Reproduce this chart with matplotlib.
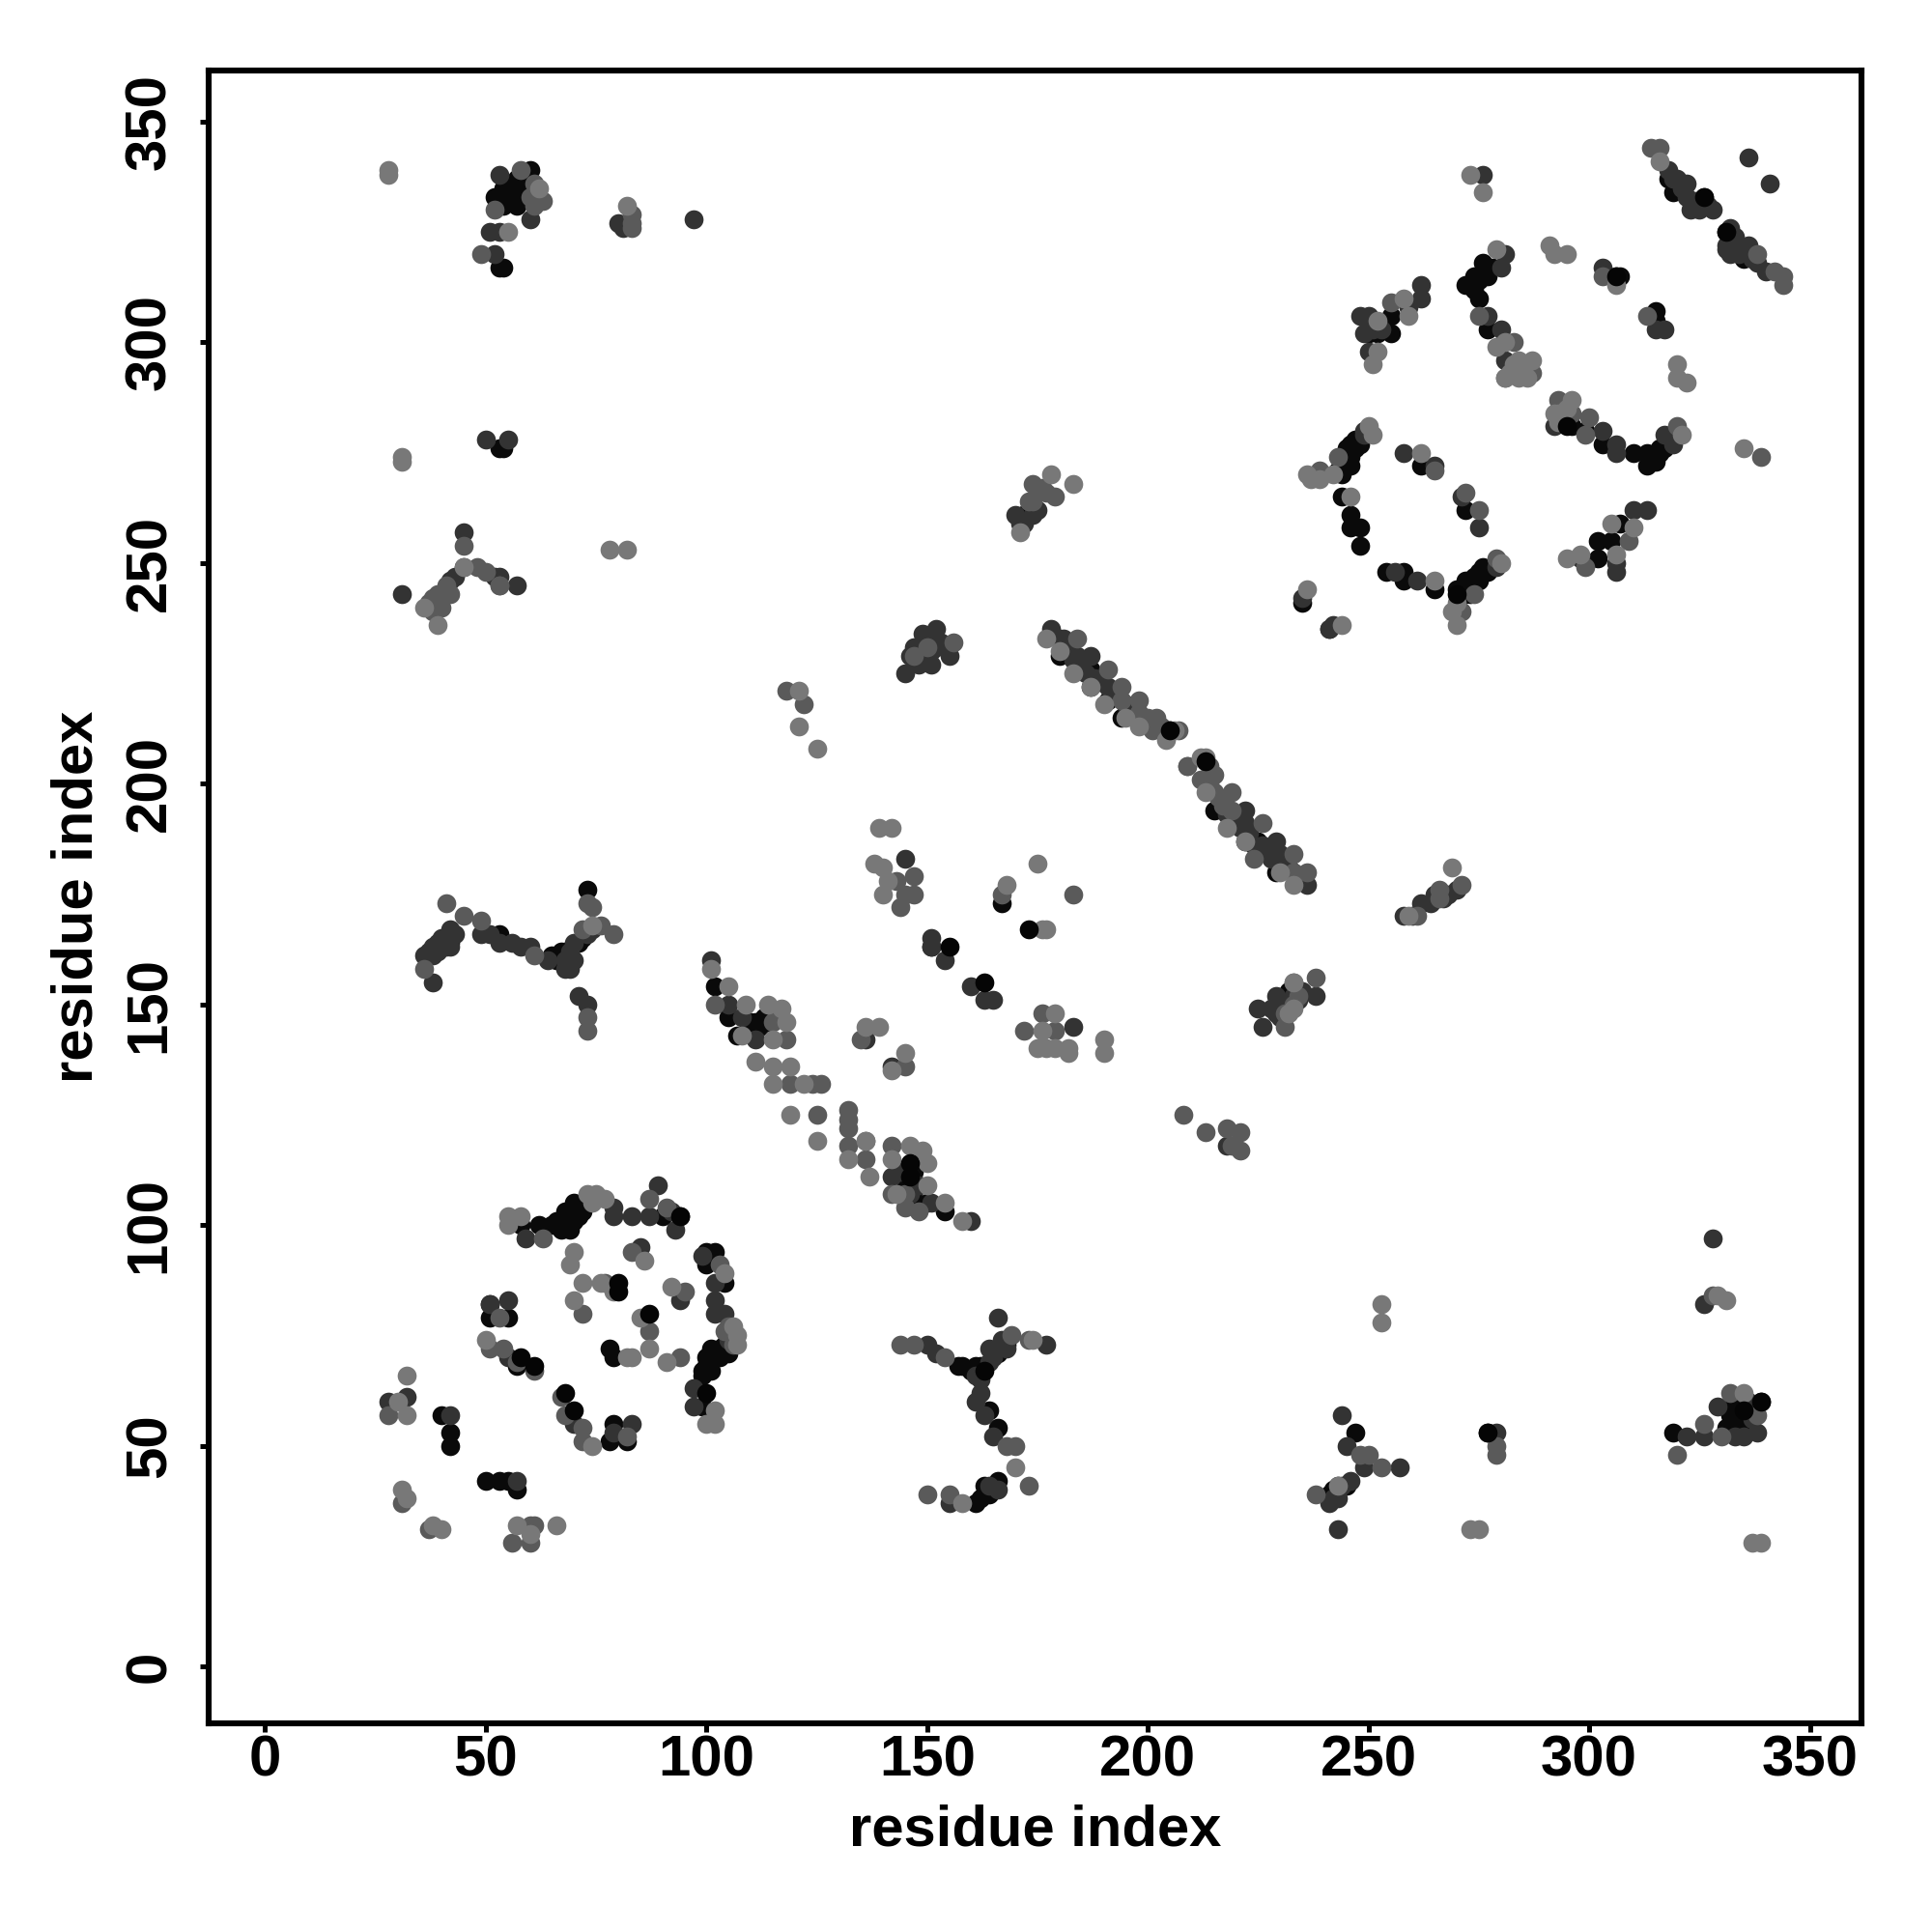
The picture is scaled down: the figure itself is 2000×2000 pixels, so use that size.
# -*- coding: utf-8 -*-
"""
Contact map, residue index vs residue index
"""

import matplotlib
matplotlib.use('Agg')
import matplotlib.pyplot as plt

plt.rcParams['font.family'] = ['Liberation Sans', 'DejaVu Sans']
plt.rcParams['font.weight'] = 'bold'

ticks = [0, 50, 100, 150, 200, 250, 300, 350]

# contacts grouped by how dark the point is
black_x = [58, 62, 65, 67, 68, 69, 70, 71, 90, 94, 78, 79, 100, 102, 100, 104, 101, 105, 103, 100, 101, 99, 99, 99,
           51, 55, 51, 57, 79, 78, 82, 40, 42, 42, 50, 53, 55, 57,
           53, 54, 55, 56, 58, 60, 59, 57, 52, 53, 54, 53, 54,
           41, 42, 53, 65, 66, 67, 68, 72, 71, 73,
           151, 167, 172,
           102, 105, 111, 114, 107, 146, 147, 150, 154,
           180, 180, 184, 187, 187, 191, 194, 205, 213, 215, 219, 222, 225, 225, 229,
           255, 250, 252, 255, 276, 277, 274, 272, 275, 277, 306, 307, 315, 315,
           296, 299, 303, 310, 313, 313, 315, 316, 318,
           247, 248, 245, 246, 244, 246, 244, 262, 244, 246, 246, 248, 248, 272, 254, 258, 258, 265,
           275, 276, 275, 272, 272, 270, 235, 241,
           302, 302, 305, 307,
           157, 161, 166, 168, 164, 166, 166, 165, 164, 163, 162, 161,
           247, 245, 243, 242, 241, 277, 319, 332, 333, 335, 339, 334, 336,
           318, 319, 326, 327, 331, 335, 230, 232, 172]
black_y = [100, 100, 100, 99, 103, 101, 105, 102, 102, 102, 72, 70, 94, 94, 91, 87, 72, 71, 70, 70, 67, 67, 66, 59,
           79, 79, 82, 68, 55, 51, 51, 57, 53, 50, 42, 42, 42, 40,
           333, 331, 335, 333, 332, 339, 335, 331, 333, 317, 317, 276, 276,
           165, 164, 166, 161, 160, 162, 162, 165, 164, 176,
           163, 173, 261,
           154, 147, 146, 146, 143, 111, 105, 105, 103,
           233, 229, 226, 226, 222, 219, 215, 212, 205, 194, 191, 187, 187, 184, 180,
           306, 302, 302, 302, 318, 315, 315, 313, 310, 303, 315, 315, 307, 305,
           281, 280, 277, 275, 275, 272, 273, 275, 277,
           278, 277, 276, 274, 272, 272, 270, 272, 265, 261, 258, 258, 254, 262, 248, 248, 246, 244,
           248, 248, 246, 246, 243, 244, 241, 235,
           255, 251, 255, 259,
           68, 68, 71, 73, 58, 54, 42, 41, 40, 39, 38, 37,
           53, 41, 41, 40, 39, 53, 53, 57, 55, 58, 60, 55, 54,
           337, 334, 333, 331, 325, 319, 150, 153, 261]

dark_x = [59, 79, 79, 83, 87, 89, 92, 93, 85, 94, 99, 102, 102, 102, 104, 105, 97, 97, 51, 55, 55, 70, 83, 79,
          28, 32, 42, 57,
          53, 60, 51, 53, 52, 81, 80, 97,
          50, 55, 45, 31, 42, 43, 45, 52, 53, 57,
          36, 37, 38, 38, 40, 42, 49, 51, 53, 56, 58, 60, 68, 69, 71, 73,
          145, 146, 151, 152, 155, 145,
          101, 105, 111, 142, 146, 151, 160,
          136, 142, 151, 151, 154, 160, 163, 165, 183,
          181, 184, 187, 191, 222, 222, 229, 230, 233, 236,
          262, 262, 259, 248, 250, 250, 281, 280, 277, 280, 281, 303, 315, 317, 276,
          292, 303, 306, 306, 317, 319, 249,
          258, 265, 271, 275, 256, 261,
          235, 241, 242, 298, 306, 306, 310, 313,
          170, 174, 225, 226, 229, 234, 238, 218,
          258, 262, 267,
          150, 152, 165, 177, 166, 161, 164, 166, 155,
          244, 245, 249, 243, 246, 257, 279, 328, 326, 322, 326, 329, 336, 338, 333, 335,
          320, 322, 323, 325, 331, 335, 336, 341]
dark_y = [97, 104, 102, 102, 102, 109, 103, 99, 95, 83, 93, 87, 83, 80, 80, 74, 63, 59, 82, 83, 70, 55, 55, 53,
          60, 61, 57, 42,
          338, 328, 325, 325, 320, 326, 327, 328,
          278, 278, 257, 243, 246, 247, 249, 247, 247, 245,
          161, 162, 163, 155, 163, 167, 166, 166, 164, 164, 163, 163, 158, 158, 152, 150,
          225, 229, 230, 235, 229, 183,
          160, 150, 142, 111, 107, 105, 101,
          142, 136, 165, 163, 160, 154, 151, 151, 145,
          233, 229, 229, 222, 194, 191, 187, 184, 180, 177,
          313, 310, 308, 306, 306, 298, 320, 317, 306, 303, 296, 317, 303, 303, 338,
          281, 280, 277, 275, 279, 277, 279,
          275, 272, 265, 258, 248, 246,
          242, 235, 236, 251, 250, 248, 262, 262,
          261, 261, 149, 145, 152, 151, 152, 118,
          170, 173, 174,
          73, 71, 70, 73, 79, 60, 41, 40, 37,
          57, 50, 45, 31, 42, 45, 53, 97, 82, 52, 52, 59, 60, 53, 52, 52,
          337, 336, 330, 330, 321, 321, 342, 336]

mid_x = [63, 87, 91, 83, 77, 95, 72, 94, 87, 103, 51, 54, 53, 57, 61, 67, 68, 72, 72, 82,
         28, 31, 37, 60, 61, 56, 60,
         58, 63, 61, 52, 49, 83, 83, 83, 45, 53,
         37, 39, 42, 48, 50, 53, 36, 41, 45, 49, 61, 73, 73, 73, 74, 76, 79, 72,
         118, 122, 156, 143, 147, 145, 144, 147, 167, 183, 172, 176, 179,
         102, 118, 119, 126, 124, 125, 132, 132, 132, 136, 136, 142, 142, 135, 145, 132,
         184, 194, 194, 198, 198, 202, 201, 209, 212, 215, 219, 219, 226, 224, 233, 236, 215, 191,
         255, 275, 283, 281, 287, 303, 293, 296, 300, 299, 313, 320, 265, 243, 239, 272, 275, 279, 274, 271, 299, 309,
         209, 233, 231, 238, 234, 233, 213, 218, 221, 221, 208, 219,
         174, 174, 176, 179, 261, 271, 266,
         144, 147, 154, 169, 173, 168, 170, 173, 150, 155,
         248, 250, 238, 253, 279, 279, 328, 320, 326, 332, 330, 338, 316, 338, 342, 344, 344, 339, 314]
mid_y = [97, 106, 104, 94, 87, 85, 80, 70, 76, 91, 72, 72, 79, 69, 67, 61, 57, 54, 51, 52,
         57, 37, 31, 32, 32, 28, 28,
         339, 332, 331, 330, 320, 329, 327, 326, 254, 245,
         240, 241, 243, 249, 248, 245, 158, 173, 170, 169, 161, 147, 144, 173, 172, 168, 166, 167,
         221, 218, 232, 178, 179, 175, 172, 175, 175, 175, 144, 148, 144,
         150, 142, 132, 132, 132, 125, 126, 122, 118, 119, 115, 118, 107, 142, 136, 124,
         233, 222, 219, 219, 216, 215, 212, 204, 201, 202, 198, 194, 191, 183, 184, 180, 198, 226,
         309, 306, 300, 292, 293, 315, 287, 284, 283, 279, 306, 281, 271, 274, 271, 266, 262, 251, 243, 239, 249, 255,
         204, 180, 145, 156, 152, 155, 121, 122, 121, 117, 125, 118,
         264, 268, 267, 265, 170, 177, 176,
         73, 73, 70, 75, 74, 50, 50, 41, 39, 39,
         48, 48, 39, 45, 50, 48, 84, 48, 55, 62, 52, 57, 344, 320, 316, 315, 313, 274, 344]

light_x = [55, 55, 58, 73, 75, 77, 74, 70, 69, 86, 72, 76, 79, 92, 70, 85, 87, 91, 83, 82,
           104, 106, 107, 107, 102, 100, 102, 50, 74, 32, 32, 30, 31, 32, 38, 40, 57, 66, 60,
           28, 28, 55, 62, 82, 31, 31, 78, 82,
           36, 39, 45, 74, 121, 121, 125, 139, 142, 138, 140, 140, 141, 175, 168, 177, 176,
           101, 105, 109, 114, 117, 118, 108, 115, 111, 115, 119, 115, 122, 119, 125, 132, 136, 137, 146, 149, 142, 150, 150, 143, 154, 158,
           136, 139, 145, 142, 176, 175, 177, 179, 182, 182, 190, 190, 179,
           177, 180, 183, 187, 190, 195, 198, 204, 206, 212, 213, 213, 218, 222, 230, 233,
           258, 252, 252, 251, 259, 279, 279, 281, 284, 287, 281, 284, 291, 292, 295, 306, 320, 320, 322, 296, 292,
           250, 251, 242, 236, 237, 239, 262, 246, 280, 270, 269, 270, 265, 236, 244, 321, 295, 298, 305, 306, 310,
           171, 178, 183, 232, 233, 233, 259, 269, 158, 170, 174, 253, 253, 273, 275,
           243, 329, 331, 335, 337, 339, 273, 276, 335, 316]
light_y = [102, 100, 102, 107, 107, 106, 105, 94, 91, 92, 87, 87, 85, 86, 83, 79, 72, 69, 70, 70,
           89, 77, 75, 73, 58, 55, 55, 74, 50, 66, 57, 60, 40, 38, 32, 31, 32, 32, 30,
           339, 338, 325, 335, 331, 274, 273, 253, 253,
           240, 236, 249, 168, 221, 213, 208, 190, 190, 182, 181, 175, 178, 182, 177, 167, 167,
           158, 154, 150, 150, 149, 146, 143, 142, 137, 132, 136, 136, 132, 125, 119, 115, 119, 111, 118, 117, 115, 114, 109, 107, 105, 101,
           145, 145, 139, 135, 144, 140, 140, 140, 140, 139, 142, 139, 148,
           233, 230, 225, 222, 218, 215, 213, 210, 212, 206, 206, 198, 190, 187, 180, 177,
           310, 305, 298, 295, 306, 321, 299, 300, 296, 296, 292, 292, 322, 320, 320, 313, 295, 292, 291, 287, 284,
           281, 279, 270, 270, 269, 269, 275, 265, 250, 241, 239, 236, 246, 244, 236, 279, 251, 252, 259, 252, 258,
           257, 270, 268, 148, 155, 149, 170, 181, 37, 45, 74, 82, 78, 31, 31,
           41, 84, 83, 62, 28, 28, 338, 334, 276, 341]

# the packed parts of the clusters, where single points are hard to tell apart
packed_black_x = [66, 68, 70, 71, 72, 69, 70, 103, 102, 100, 104, 102, 101, 54, 57, 59, 56, 58,
                  158, 160, 162, 163, 165, 164, 246, 247, 245, 245, 243, 276, 274, 273, 271, 273, 277,
                  314, 316, 317, 319, 275, 276, 278, 274, 331, 332, 334, 335, 110, 112, 113, 145, 147, 147]
packed_black_y = [101, 100, 103, 104, 103, 99, 101, 72, 70, 68, 73, 71, 69, 335, 337, 337, 335, 335,
                  68, 67, 68, 41, 41, 39, 277, 276, 274, 272, 271, 249, 247, 245, 244, 243, 248,
                  274, 276, 276, 278, 314, 316, 317, 312, 54, 59, 60, 54, 146, 145, 147, 110, 112, 108]
packed_dark_x = [178, 182, 183, 185, 186, 188, 189, 192, 193, 195, 196, 218, 220, 221, 223, 224, 226, 227, 228, 231, 232, 234,
                 147, 148, 150, 149, 151, 153, 148, 151, 152, 228, 229, 231, 232, 233, 235, 230,
                 171, 172, 175, 260, 264, 265, 268, 270,
                 318, 319, 321, 322, 324, 325, 327, 328, 332, 333, 333, 334, 336, 337, 338, 340, 331, 332,
                 38, 39, 40, 41, 43, 42, 39, 64, 68, 69, 70, 70, 73, 74,
                 161, 162, 164, 164, 165, 167, 168, 162, 163, 165, 249, 279, 251, 253, 249, 243, 241, 242, 244, 337, 108, 144, 148]
packed_dark_y = [235, 231, 228, 228, 225, 224, 223, 221, 220, 218, 217, 193, 192, 190, 189, 186, 186, 185, 183, 182, 181, 179,
                 231, 229, 233, 234, 233, 232, 227, 227, 231, 149, 148, 150, 150, 152, 153, 147,
                 259, 259, 262, 170, 173, 175, 175, 176,
                 339, 337, 335, 333, 332, 331, 331, 330, 326, 324, 322, 320, 322, 319, 318, 316, 322, 320,
                 161, 164, 165, 163, 166, 163, 162, 160, 160, 162, 164, 160, 166, 167,
                 66, 65, 69, 72, 71, 74, 72, 62, 57, 52, 280, 249, 303, 303, 302, 38, 37, 38, 41, 56, 147, 112, 109]
packed_mid_x = [199, 200, 203, 207, 214, 214, 216, 217, 147, 150, 231, 233, 173, 175, 177, 266,
                38, 39, 40, 41, 40, 37, 38, 60, 61, 106, 105, 106, 104, 294, 116, 115, 145, 148, 145]
packed_mid_y = [214, 215, 213, 212, 204, 200, 197, 195, 229, 231, 148, 150, 264, 267, 266, 174,
                242, 243, 242, 245, 240, 241, 239, 333, 336, 75, 77, 73, 76, 283, 148, 146, 104, 103, 107]
packed_light_x = [282, 283, 285, 286, 293, 295, 293]
packed_light_y = [293, 295, 294, 292, 284, 285, 282]

# black points that sit on top of their neighbours
top_x = [80, 80, 87, 58, 61, 100, 68, 70, 94, 155, 163, 173, 146, 146, 163, 205, 213, 270, 306, 339, 335, 326, 277, 295, 331]
top_y = [87, 85, 80, 70, 68, 62, 62, 58, 102, 163, 155, 167, 114, 111, 67, 212, 205, 243, 315, 60, 58, 333, 53, 281, 325]

fig = plt.figure(figsize=(10, 10), dpi=200)
ax_1 = fig.add_axes([0.108, 0.108, 0.8555, 0.8555])

size = 50
ax_1.scatter(black_x + packed_black_x, black_y + packed_black_y, s=size, c='#0a0a0a', linewidths=0)
ax_1.scatter(dark_x + packed_dark_x, dark_y + packed_dark_y, s=size, c='#333333', linewidths=0)
ax_1.scatter(mid_x + packed_mid_x, mid_y + packed_mid_y, s=size, c='#5a5a5a', linewidths=0)
ax_1.scatter(light_x + packed_light_x, light_y + packed_light_y, s=size, c='#787878', linewidths=0)
ax_1.scatter(top_x, top_y, s=size, c='#050505', linewidths=0)

ax_1.set_xlim(-12.8, 361.7)
ax_1.set_ylim(-12.9, 361.6)
ax_1.set_xticks(ticks)
ax_1.set_yticks(ticks)
ax_1.tick_params(length=3.4, width=1.8, labelsize=21.6)
ax_1.tick_params(axis='x', pad=0.6)
ax_1.tick_params(axis='y', pad=8.4)
for lab in ax_1.get_yticklabels():
    lab.set_rotation(90)
    lab.set_va('center')
for spine in ax_1.spines.values():
    spine.set_linewidth(2.2)

ax_1.set_xlabel('residue index', fontsize=21.5, fontweight='bold', labelpad=6.3)
ax_1.set_ylabel('residue index', fontsize=21.5, fontweight='bold', labelpad=7.3)

plt.savefig('out.png', dpi=200)
